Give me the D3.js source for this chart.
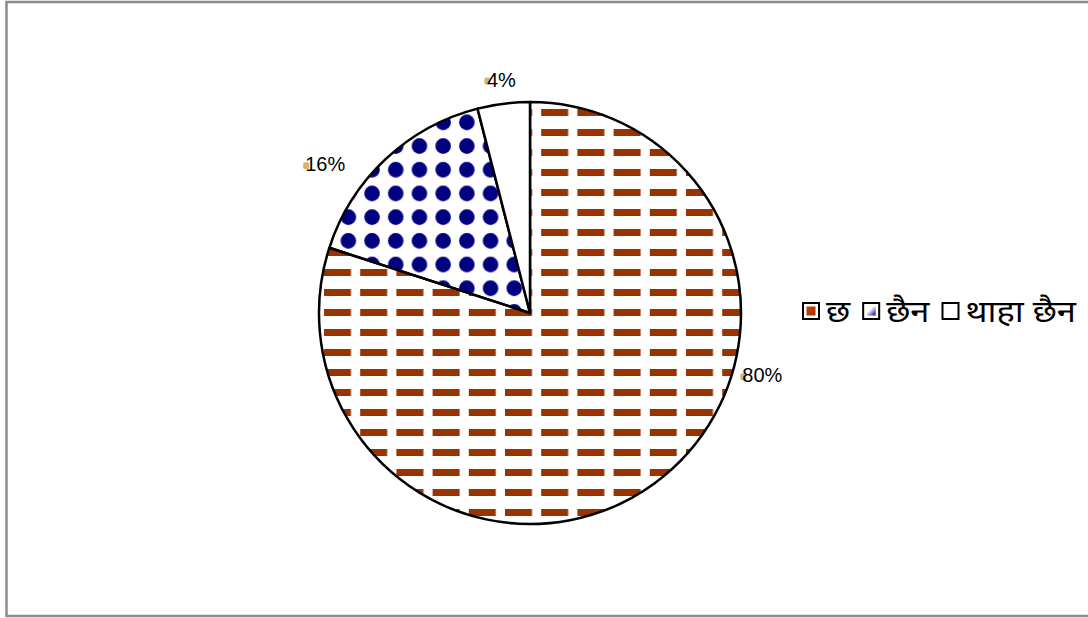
<!DOCTYPE html>
<html>
<head>
<meta charset="utf-8">
<script src="https://cdn.jsdelivr.net/npm/d3@7"></script>
<style>
  html, body { margin: 0; padding: 0; background: #fff; }
  svg { display: block; }
  .pct { font-family: "Liberation Sans", Arial, sans-serif; font-size: 20px; fill: #000; }
  .legend-label { font-family: "Noto Sans Devanagari", "Noto Sans", "DejaVu Sans", sans-serif; font-size: 30px; fill: #000; }
</style>
</head>
<body>
<div id="chart"></div>
<script>
// chart data
const categories = ['छ', 'छैन', 'थाहा छैन'];
const values = [80, 16, 4];
const pctLabels = ['80%', '16%', '4%'];

// label placement (angle in degrees clockwise from 12 o'clock, radius factor)
const labelPlacement = [
  {angle: 105, r: 1.14},
  {angle: 306, r: 1.2},
  {angle: 353, r: 1.115}
];

const config = {
  width: 1088,
  height: 618,
  cx: 530,
  cy: 313,
  radius: 211,
  legendX: 802,
  legendY: 302,
  legendStretch: 1.15
};

const svg = d3.select('#chart').append('svg')
    .attr('width', config.width)
    .attr('height', config.height);

// chart frame
svg.append('rect')
    .attr('x', 6.5)
    .attr('y', 2)
    .attr('width', config.width + 10)
    .attr('height', 614)
    .attr('fill', '#fff')
    .attr('stroke', '#8c8c8c')
    .attr('stroke-width', 2.5);

const defs = svg.append('defs');

// horizontal dash pattern (user space of the translated pie group)
const dash = defs.append('pattern')
    .attr('id', 'dashes')
    .attr('patternUnits', 'userSpaceOnUse')
    .attr('x', 324 - config.cx)
    .attr('y', 9 - config.cy)
    .attr('width', 36.2)
    .attr('height', 20);
dash.append('rect')
    .attr('width', 27)
    .attr('height', 7)
    .attr('fill', '#993300');

// dot pattern
const dots = defs.append('pattern')
    .attr('id', 'dots')
    .attr('patternUnits', 'userSpaceOnUse')
    .attr('x', 336.5 - config.cx)
    .attr('y', 110.5 - config.cy)
    .attr('width', 23.7)
    .attr('height', 23.7);
dots.append('circle')
    .attr('cx', 11.85)
    .attr('cy', 11.85)
    .attr('r', 7.8)
    .attr('fill', '#000080');

// legend gradients
const g1 = defs.append('linearGradient')
    .attr('id', 'leg1').attr('x1', '0%').attr('y1', '0%').attr('x2', '100%').attr('y2', '100%');
g1.append('stop').attr('offset', '0%').attr('stop-color', '#cc4400');
g1.append('stop').attr('offset', '100%').attr('stop-color', '#993300');
const g2 = defs.append('linearGradient')
    .attr('id', 'leg2').attr('x1', '0%').attr('y1', '0%').attr('x2', '100%').attr('y2', '100%');
g2.append('stop').attr('offset', '35%').attr('stop-color', '#ffffff');
g2.append('stop').attr('offset', '100%').attr('stop-color', '#000080');

const fills = ['url(#dashes)', 'url(#dots)', '#ffffff'];
const legendFills = ['url(#leg1)', 'url(#leg2)', 'none'];

const pie = d3.pie().sort(null).value(d => d);
const arcs = pie(values);

const arc = d3.arc()
    .innerRadius(0)
    .outerRadius(config.radius);

const g = svg.append('g')
    .attr('transform', `translate(${config.cx},${config.cy})`);

g.selectAll('path.slice')
    .data(arcs)
    .enter().append('path')
    .attr('class', 'slice')
    .attr('d', arc)
    .attr('fill', (d, i) => fills[i])
    .attr('stroke', '#000')
    .attr('stroke-width', 2.5)
    .attr('stroke-linejoin', 'round');

// percentage labels
const labels = g.selectAll('g.lbl')
    .data(arcs)
    .enter().append('g')
    .attr('class', 'lbl')
    .attr('transform', (d, i) => {
      const p = labelPlacement[i];
      const a = p.angle * Math.PI / 180;
      const r = config.radius * p.r;
      return `translate(${r * Math.sin(a)},${-r * Math.cos(a)})`;
    });

labels.append('rect')
    .attr('x', (d, i) => i === 2 ? -17 : -22)
    .attr('y', -2)
    .attr('width', 6)
    .attr('height', 7)
    .attr('rx', 2)
    .attr('fill', '#d4b46a');

labels.append('text')
    .attr('class', 'pct')
    .attr('text-anchor', 'middle')
    .attr('dy', '0.36em')
    .text((d, i) => pctLabels[i]);

// legend
const legend = svg.append('g')
    .attr('transform', `translate(${config.legendX},${config.legendY})`);

let xPos = 0;
categories.forEach((c, i) => {
  const item = legend.append('g').attr('transform', `translate(${xPos},0)`);
  item.append('rect')
      .attr('x', 1).attr('y', 1)
      .attr('width', 16).attr('height', 16)
      .attr('fill', '#fff')
      .attr('stroke', '#000')
      .attr('stroke-width', 2);
  if (legendFills[i] !== 'none') {
    item.append('rect')
        .attr('x', 4.5).attr('y', 4.5)
        .attr('width', 9).attr('height', 9)
        .attr('fill', legendFills[i]);
  }
  const t = item.append('g')
      .attr('transform', `translate(24,20) scale(${config.legendStretch},1)`)
    .append('text')
      .attr('class', 'legend-label')
      .text(c);
  xPos += 24 + t.node().getComputedTextLength() * config.legendStretch + 12;
});
</script>
</body>
</html>
